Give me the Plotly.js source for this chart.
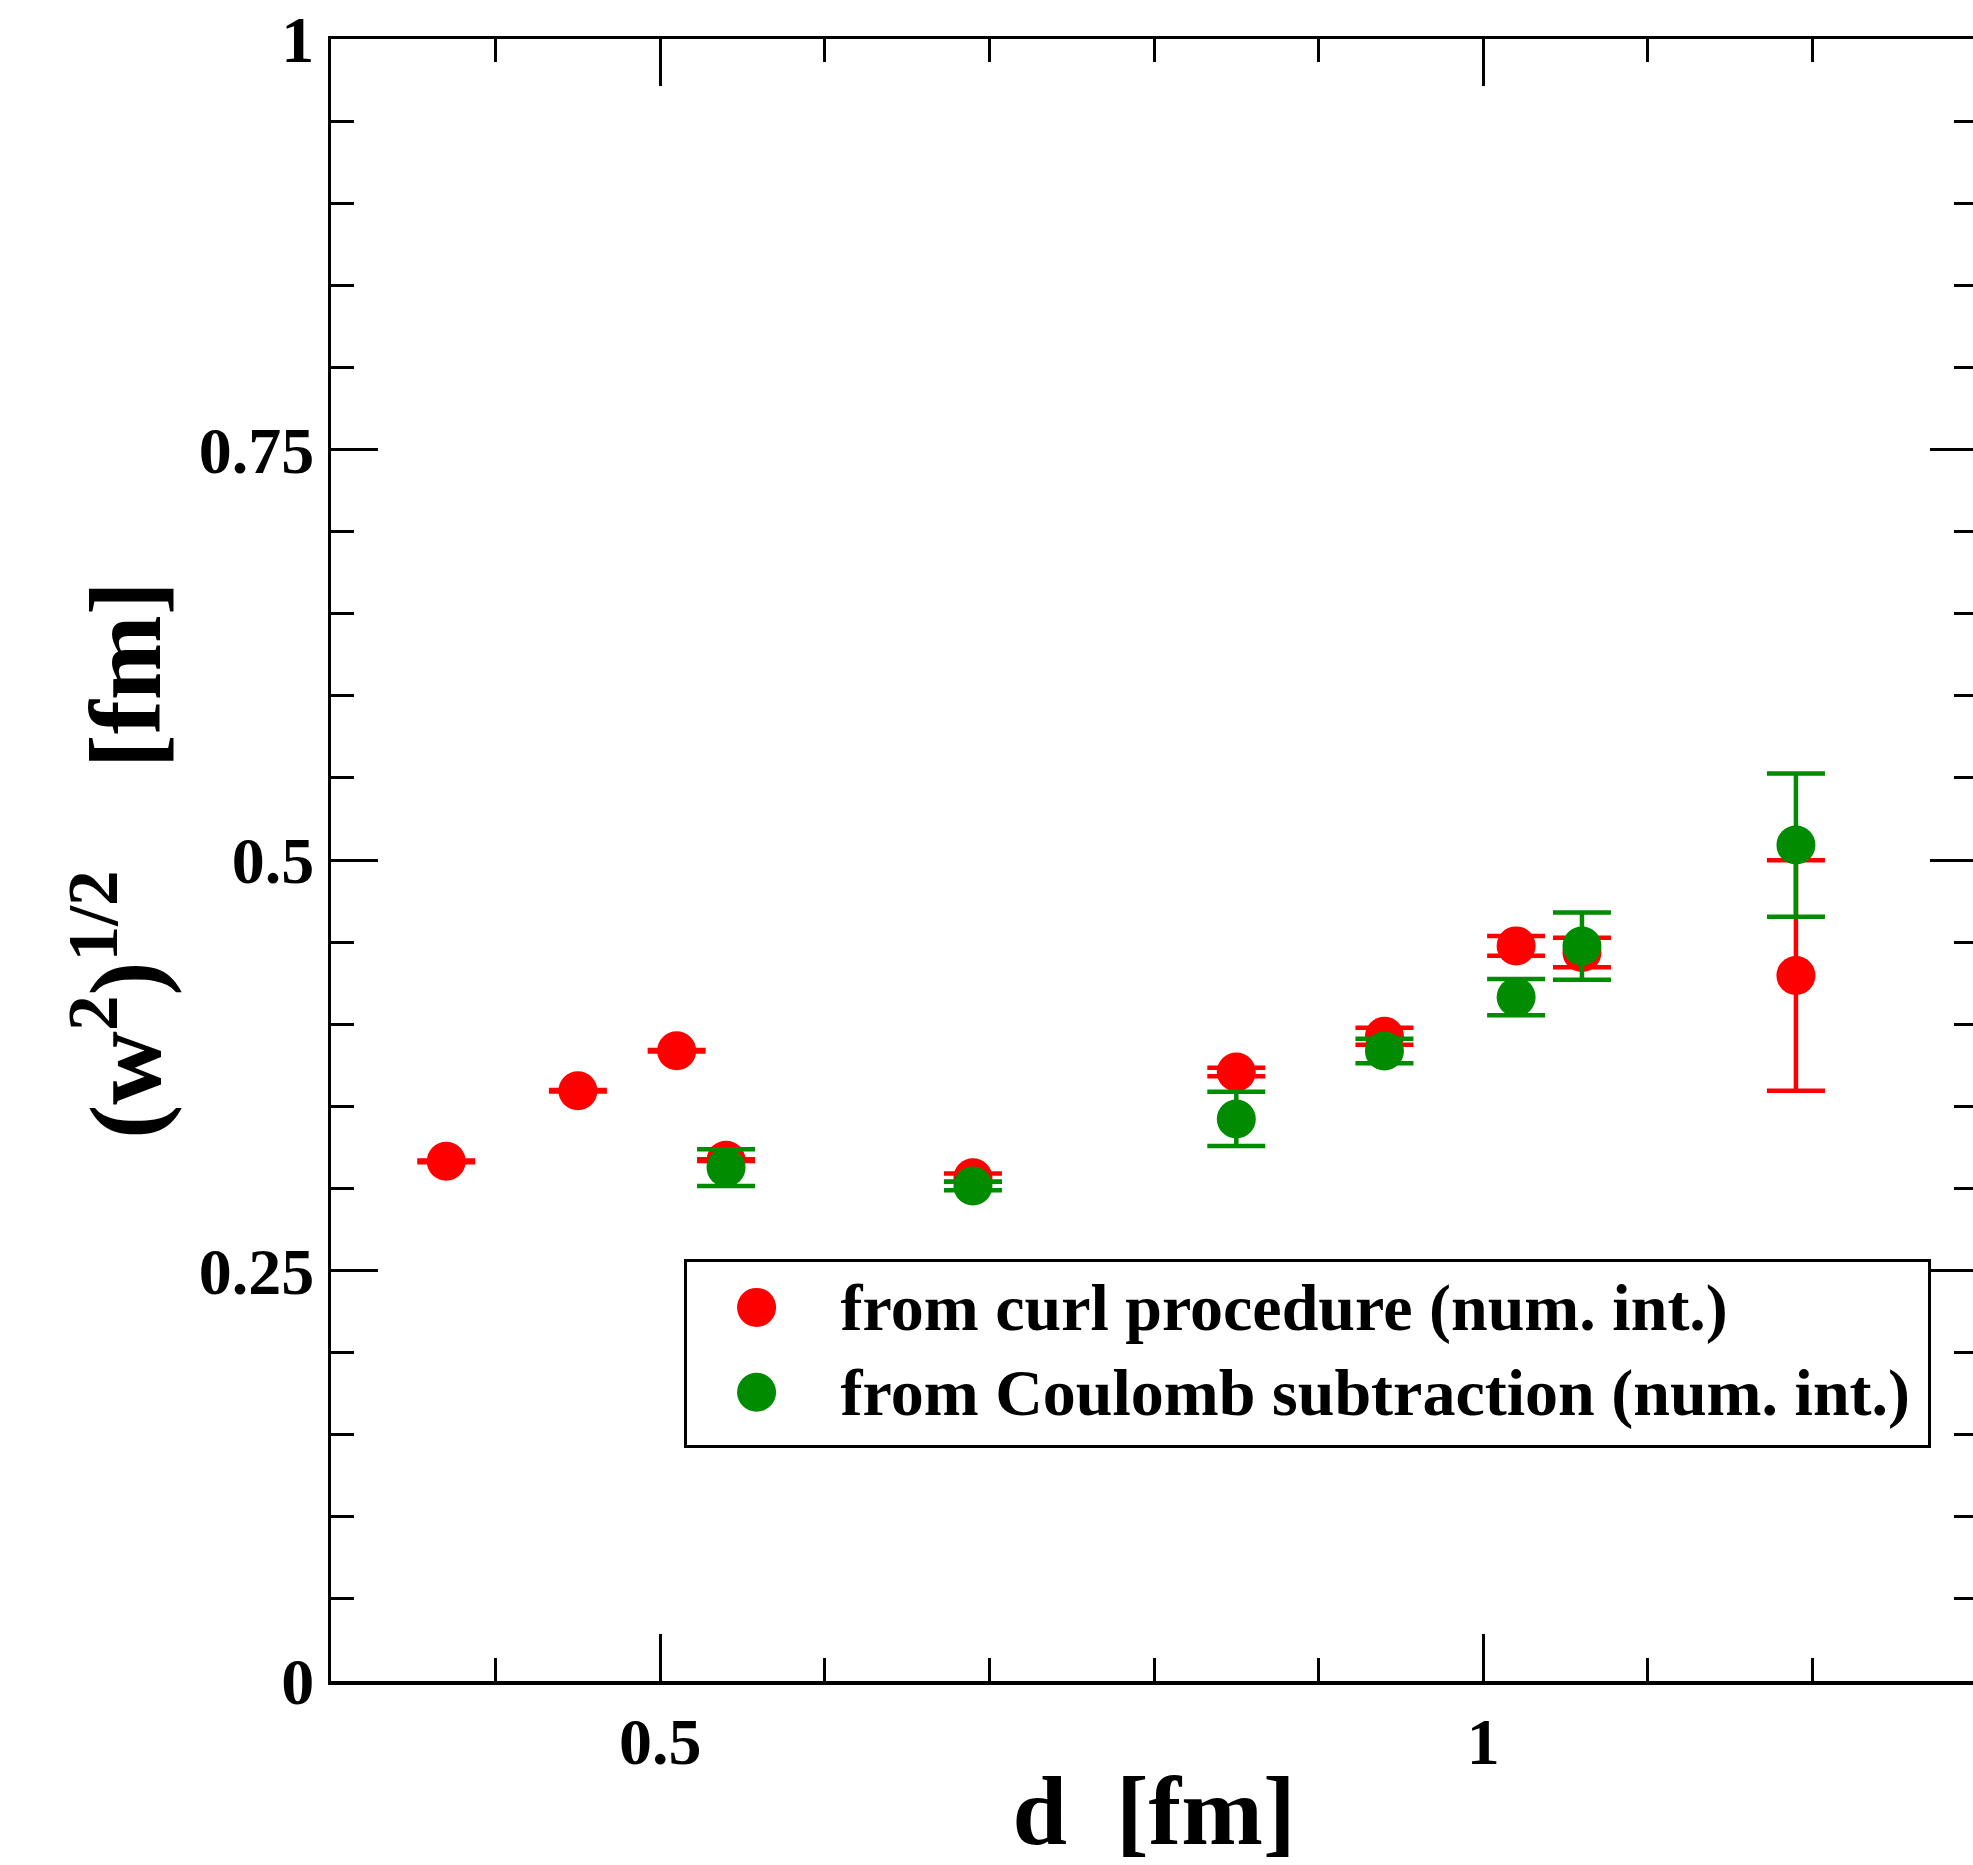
<!DOCTYPE html>
<html>
<head>
<meta charset="utf-8">
<script src="https://cdn.plot.ly/plotly-3.0.1.min.js"></script>
<style>
  html, body { margin: 0; padding: 0; overflow: hidden; background: #fff; }
  #chart { width: 1980px; height: 1865px; }
</style>
</head>
<body>
<div id="chart"></div>
<script>
// Series 1: from curl procedure (num. int.)
const curlX   = [0.37, 0.45, 0.51, 0.54, 0.69, 0.85, 0.94, 1.02, 1.06, 1.19];
const curlY   = [0.3165, 0.3595, 0.3838, 0.3172, 0.3065, 0.3709, 0.3927, 0.4477, 0.4437, 0.4297];
const curlErr = [0.0005, 0.0005, 0.0005, 0.0005, 0.0025, 0.0026, 0.0052, 0.006, 0.009, 0.0702];

// Series 2: from Coulomb subtraction (num. int.)
const coulX   = [0.54, 0.69, 0.85, 0.94, 1.02, 1.06, 1.19];
const coulY   = [0.3127, 0.3015, 0.3423, 0.3837, 0.4165, 0.4476, 0.5091];
const coulErr = [0.0112, 0.0026, 0.0165, 0.0075, 0.011, 0.0205, 0.0436];

const seriesNames = ["from curl procedure (num. int.)", "from Coulomb subtraction (num. int.)"];
const seriesColors = ["#ff0000", "#008b00"];

const xTitle = "d\u00a0\u00a0[fm]";
const yTitle = "(w<sup>2</sup>)<sup>1/2</sup>\u00a0\u00a0\u00a0\u00a0[fm]";

const FONT = "Liberation Serif, Times New Roman, serif";

function mkTrace(x, y, err, name, color) {
  return {
    type: "scatter", mode: "markers", name: name,
    x: x, y: y,
    error_y: { type: "data", array: err, visible: true, color: color, thickness: 4.5, width: 29 },
    marker: { color: color, size: 39, symbol: "circle", line: { width: 0 } },
    hoverinfo: "x+y"
  };
}

const data = [
  mkTrace(curlX, curlY, curlErr, seriesNames[0], seriesColors[0]),
  mkTrace(coulX, coulY, coulErr, seriesNames[1], seriesColors[1])
];

const axisCommon = {
  showline: true, linecolor: "#000", linewidth: 3.5, mirror: "ticks",
  ticks: "inside", ticklen: 47, tickwidth: 3, tickcolor: "#000",
  showgrid: false, zeroline: false,
  tickfont: { family: FONT, size: 66, color: "#000", weight: 700 }
};

const layout = {
  width: 1980, height: 1865,
  margin: { l: 331, r: 3, t: 39, b: 184 },
  paper_bgcolor: "#fff", plot_bgcolor: "#fff",
  showlegend: true,
  xaxis: Object.assign({}, axisCommon, {
    range: [0.3, 1.3], tick0: 0, dtick: 0.5,
    minor: { dtick: 0.1, tick0: 0, ticks: "inside", ticklen: 23, tickwidth: 3, tickcolor: "#000", showgrid: false },
    title: { text: xTitle, font: { family: FONT, size: 98, color: "#000", weight: 700 }, standoff: 30 }
  }),
  yaxis: Object.assign({}, axisCommon, {
    range: [0, 1], tick0: 0, dtick: 0.25,
    minor: { dtick: 0.05, tick0: 0, ticks: "inside", ticklen: 23, tickwidth: 3, tickcolor: "#000", showgrid: false },
    title: { text: yTitle, font: { family: FONT, size: 102, color: "#000", weight: 700 }, standoff: 5 }
  }),
  legend: {
    x: 0.2142, y: 0.257, xanchor: "left", yanchor: "top",
    bgcolor: "#fff", bordercolor: "#000", borderwidth: 3,
    font: { family: FONT, size: 66, color: "#000", weight: 700 },
    itemwidth: 144, tracegroupgap: 0
  }
};

Plotly.newPlot("chart", data, layout, { displayModeBar: false, staticPlot: true }).then(function (gd) {
  // enlarge legend symbols to match the data markers (Plotly caps legend marker size at 16px)
  gd.querySelectorAll(".legend .legendpoints path.scatterpts").forEach(function (p) {
    var t = p.getAttribute("transform") || "";
    p.setAttribute("transform", t + " translate(-7,3) scale(2.44)");
  });
  // tighten legend row spacing slightly to match the reference
  var shifts = [-7, -11];
  gd.querySelectorAll(".legend .traces").forEach(function (g, i) {
    var t = g.getAttribute("transform") || "";
    g.setAttribute("transform", t + " translate(0," + (shifts[i] || 0) + ")");
  });
  // adjust the legend box size a little to match the reference
  gd.querySelectorAll(".legend rect.bg").forEach(function (r) {
    var w = parseFloat(r.getAttribute("width"));
    var h = parseFloat(r.getAttribute("height"));
    if (!isNaN(w)) r.setAttribute("width", w + 12);
    if (!isNaN(h)) r.setAttribute("height", h - 5);
  });
});
</script>
</body>
</html>
